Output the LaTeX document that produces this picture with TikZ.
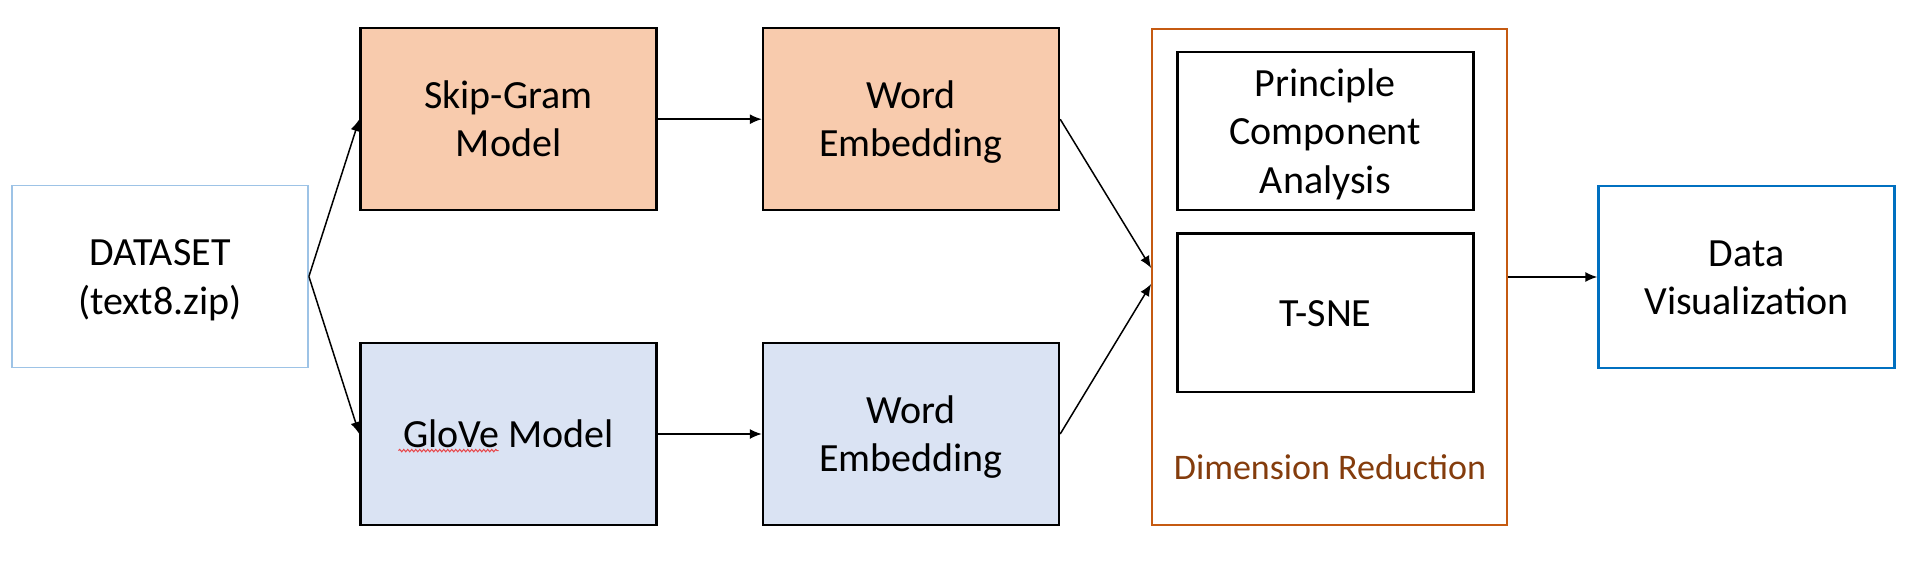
\documentclass[tikz,border=0pt]{standalone}
\usepackage{fontspec}
\setmainfont{Carlito}
\usetikzlibrary{arrows.meta,decorations.pathmorphing}
\definecolor{skipfill}{HTML}{F8CBAD}
\definecolor{glovefill}{HTML}{DAE3F3}
\definecolor{dataline}{HTML}{9DC3E6}
\definecolor{dimline}{HTML}{C55A11}
\definecolor{dimtext}{HTML}{843C0C}
\definecolor{visline}{HTML}{0070C0}
\definecolor{spellred}{HTML}{E8474A}
\newcommand{\ls}{\rule[-5.4pt]{0pt}{24.2pt}}
\begin{document}
\begin{tikzpicture}[->,>={Latex[length=6pt,width=5pt]},line width=0.75pt,
      node distance=201.25pt,
      every node/.style={font=\fontsize{20}{24.2}\selectfont,align=center},
      main box/.style={rectangle,draw,minimum width=148pt,minimum height=91pt,inner sep=0pt},
      model box/.style={main box,line width=1.2pt},
      method box/.style={main box,line width=1.2pt,fill=white,minimum height=79pt},
      group box/.style={rectangle,draw=dimline,line width=0.9pt,minimum width=177.5pt,minimum height=248pt}]
 \useasboundingbox (0,0) rectangle (960.5pt,-280.5pt);
 \node[main box, draw=dataline, line width=0.9pt] (ds) at (80pt,-138.25pt) {\ls DATASET\\(text8.zip)\ls};
 \node[model box, fill=skipfill] (sg) at (254.25pt,-59.6pt) {\ls Skip-Gram\\Model\ls};
 \node[model box, fill=skipfill] (we1) [right of=sg] {\ls Word\\Embedding\ls};
 \node[model box, fill=glovefill] (gl) [node distance=157.4pt, below of=sg] {\ls GloVe Model};
 \node[model box, fill=glovefill] (we2) [right of=gl] {\ls Word\\Embedding\ls};

 \node[group box] (dr) at (664.75pt,-138.5pt) {};
 \node[method box] (pca) at (662.65pt,-65.65pt) {\ls Principle\\Component\\Analysis\ls};
 \node[method box] (tsne) at (662.65pt,-156.35pt) {\ls T-SNE};
 \node[text=dimtext, font=\fontsize{18}{21.8}\selectfont, anchor=base] (drlabel) at (665pt,-239.5pt) {Dimension Reduction};
 \node[main box, draw=visline, line width=1.2pt] (dv) [node distance=208.5pt, right of=dr] {\ls Data\\Visualization\ls};

 \coordinate (dr top in) at ([yshift=4.5pt]dr.west);
 \coordinate (dr low in) at ([yshift=-3.5pt]dr.west);

\path
 (ds.east) edge (sg.west)
 (ds.east) edge (gl.west)
 (sg) edge (we1)
 (gl) edge (we2)
 (we1.east) edge (dr top in)
 (we2.east) edge (dr low in)
 (dr) edge (dv)
 ;
 % spell-check mark under GloVe
 \draw[-, spellred, line width=0.5pt, decorate, decoration={snake,segment length=2pt,amplitude=0.6pt}]
   ([xshift=-55pt,yshift=-8.3pt]gl.center) -- ([xshift=-5pt,yshift=-8.3pt]gl.center);
\end{tikzpicture}
\end{document}
